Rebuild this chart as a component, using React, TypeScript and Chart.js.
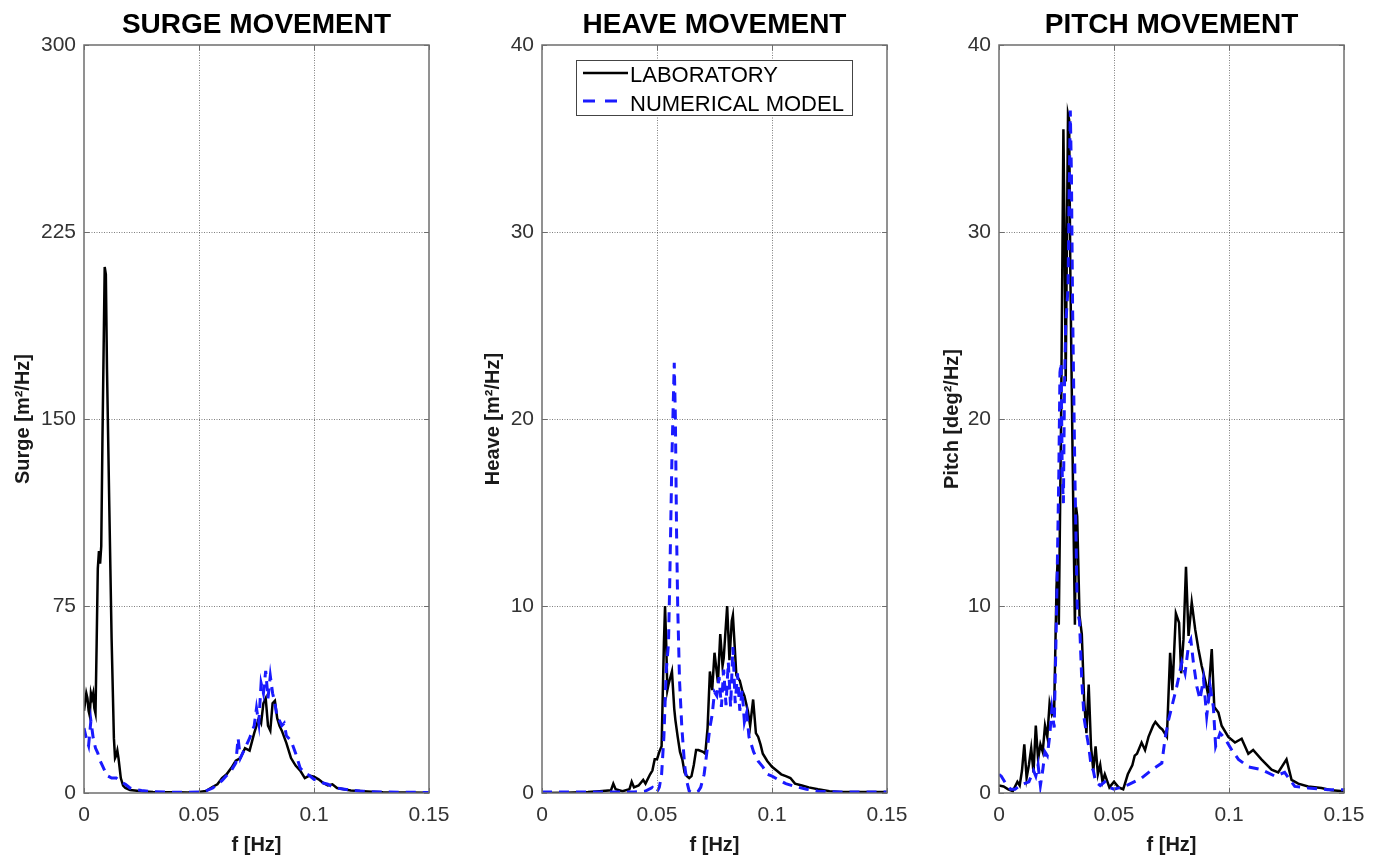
import React, { useEffect, useRef } from 'react';
import { Chart, registerables } from 'chart.js';

Chart.register(...registerables);

const FONT = '"Liberation Sans", Arial, Helvetica, sans-serif';

// ---- axis ticks / labels ----
const xTicks = [0, 0.05, 0.1, 0.15];
const surgeTicks = [0, 75, 150, 225, 300];
const motionTicks = [0, 10, 20, 30, 40];
const panelTitles = ['SURGE MOVEMENT', 'HEAVE MOVEMENT', 'PITCH MOVEMENT'];
const yTitles = ['Surge [m²/Hz]', 'Heave [m²/Hz]', 'Pitch [deg²/Hz]'];
const xTitle = 'f [Hz]';
const seriesNames = ['LABORATORY', 'NUMERICAL MODEL'];

// ---- SURGE ----
const surgeLabF = [0, 0.001, 0.0015, 0.002, 0.0025, 0.003, 0.0035, 0.004, 0.0045, 0.005, 0.0055, 0.006, 0.0065, 0.007, 0.0075, 0.008, 0.009, 0.0095, 0.01, 0.011, 0.012, 0.013, 0.0135, 0.014, 0.0145, 0.015, 0.016, 0.017, 0.018, 0.02, 0.025, 0.03, 0.035, 0.04, 0.045, 0.05, 0.053, 0.056, 0.058, 0.06, 0.062, 0.064, 0.066, 0.068, 0.07, 0.072, 0.074, 0.076, 0.077, 0.078, 0.079, 0.08, 0.081, 0.082, 0.083, 0.084, 0.085, 0.086, 0.088, 0.09, 0.092, 0.094, 0.096, 0.098, 0.1, 0.102, 0.104, 0.106, 0.108, 0.11, 0.113, 0.116, 0.12, 0.125, 0.13, 0.14, 0.15];
const surgeLab = [33, 40, 38, 33, 31, 40, 38, 40, 34, 32, 60, 90, 97, 92, 99, 140, 211, 208, 170, 115, 62, 22, 14, 15, 17, 14, 6, 3, 2, 1.2, 0.7, 0.4, 0.3, 0.3, 0.2, 0.4, 0.8, 2.5, 3.5, 6, 7.5, 10, 13, 14, 18, 17, 24, 30, 28, 36, 38, 27, 25, 36, 37, 30, 27, 25, 20, 14, 11, 9, 6, 7, 6.5, 5.5, 4, 3, 3.5, 2, 1.5, 1, 0.8, 0.5, 0.3, 0.2, 0.1];
const surgeNumF = [0, 0.001, 0.002, 0.003, 0.004, 0.005, 0.006, 0.007, 0.008, 0.009, 0.01, 0.012, 0.014, 0.016, 0.018, 0.02, 0.022, 0.025, 0.03, 0.035, 0.04, 0.045, 0.05, 0.053, 0.056, 0.058, 0.06, 0.062, 0.064, 0.066, 0.067, 0.068, 0.07, 0.072, 0.074, 0.075, 0.076, 0.077, 0.078, 0.079, 0.08, 0.081, 0.082, 0.083, 0.084, 0.085, 0.086, 0.087, 0.088, 0.09, 0.092, 0.094, 0.096, 0.098, 0.1, 0.102, 0.104, 0.106, 0.108, 0.11, 0.115, 0.12, 0.125, 0.13, 0.14, 0.15];
const surgeNum = [26, 22, 19, 29, 22, 18, 16, 13, 11, 9, 7, 6, 6, 4.5, 3.5, 2, 1.5, 1, 0.5, 0.4, 0.3, 0.3, 0.4, 0.8, 2, 3.5, 5, 7, 9, 12, 22, 14, 18, 22, 27, 34, 28, 44, 40, 49, 38, 47, 40, 36, 30, 29, 27, 28, 23, 21, 16, 10, 8, 7, 5.5, 5, 4, 3.5, 2.5, 2, 1.3, 0.8, 0.5, 0.4, 0.3, 0.2];

// ---- HEAVE ----
const heaveLabF = [0, 0.01, 0.02, 0.025, 0.03, 0.031, 0.032, 0.035, 0.038, 0.039, 0.04, 0.042, 0.044, 0.045, 0.047, 0.048, 0.049, 0.05, 0.051, 0.052, 0.053, 0.0535, 0.054, 0.0545, 0.055, 0.0565, 0.0575, 0.058, 0.059, 0.06, 0.061, 0.062, 0.063, 0.064, 0.065, 0.066, 0.067, 0.068, 0.07, 0.071, 0.072, 0.073, 0.074, 0.075, 0.0765, 0.0775, 0.0785, 0.079, 0.0805, 0.0815, 0.0825, 0.083, 0.0845, 0.086, 0.087, 0.088, 0.0895, 0.0905, 0.0918, 0.093, 0.094, 0.095, 0.096, 0.098, 0.1, 0.102, 0.104, 0.106, 0.108, 0.11, 0.113, 0.116, 0.12, 0.125, 0.13, 0.14, 0.15];
const heaveLab = [0, 0.02, 0.05, 0.1, 0.15, 0.5, 0.2, 0.1, 0.2, 0.6, 0.3, 0.4, 0.7, 0.5, 1, 1.2, 1.8, 1.8, 2.2, 2.5, 8, 10, 8, 5.5, 5.8, 6.5, 4.5, 3.9, 3, 2.2, 1.8, 1.1, 0.9, 0.8, 0.9, 1.5, 2.3, 2.3, 2.2, 2.1, 3.5, 6.5, 5.5, 7.5, 5.9, 8.5, 6.8, 7.2, 10, 7.1, 9.2, 9.5, 6.3, 6, 5.5, 5.2, 4.4, 3.6, 5, 3.2, 3, 2.6, 2.1, 1.7, 1.4, 1.2, 1, 0.9, 0.8, 0.5, 0.4, 0.3, 0.2, 0.1, 0.06, 0.05, 0.05];
const heaveNumF = [0, 0.01, 0.02, 0.03, 0.04, 0.045, 0.048, 0.049, 0.05, 0.051, 0.052, 0.053, 0.054, 0.055, 0.0555, 0.0565, 0.0575, 0.058, 0.0585, 0.059, 0.0598, 0.0608, 0.062, 0.063, 0.064, 0.066, 0.068, 0.069, 0.0705, 0.0715, 0.073, 0.074, 0.075, 0.076, 0.077, 0.078, 0.079, 0.08, 0.081, 0.082, 0.083, 0.084, 0.085, 0.086, 0.087, 0.088, 0.089, 0.09, 0.091, 0.092, 0.094, 0.096, 0.098, 0.1, 0.103, 0.106, 0.11, 0.115, 0.12, 0.13, 0.15];
const heaveNum = [0.05, 0.05, 0.05, 0.05, 0.05, 0.1, 0.3, 0.1, 0.05, 0.3, 1, 3, 6.5, 8, 11, 18, 23, 20, 14, 10, 6, 3.5, 1.5, 0.6, 0.1, 0, 0.1, 0.3, 1, 2, 3.5, 4.2, 5.4, 5.2, 6.2, 4.6, 6.6, 4.7, 7, 4.6, 7.8, 4.8, 6.4, 4.4, 5.5, 3.8, 4.3, 3, 2.6, 2.2, 1.7, 1.4, 1, 0.9, 0.7, 0.5, 0.35, 0.2, 0.1, 0.05, 0.05];

// ---- PITCH ----
const pitchLabF = [0, 0.002, 0.004, 0.006, 0.008, 0.009, 0.01, 0.011, 0.012, 0.013, 0.014, 0.015, 0.016, 0.017, 0.018, 0.019, 0.02, 0.021, 0.022, 0.023, 0.024, 0.025, 0.0255, 0.026, 0.027, 0.028, 0.0285, 0.029, 0.03, 0.0305, 0.031, 0.032, 0.033, 0.0335, 0.034, 0.035, 0.036, 0.037, 0.038, 0.039, 0.04, 0.041, 0.042, 0.043, 0.044, 0.045, 0.046, 0.048, 0.05, 0.052, 0.054, 0.056, 0.058, 0.059, 0.06, 0.062, 0.0635, 0.065, 0.067, 0.068, 0.07, 0.071, 0.073, 0.0744, 0.0754, 0.0769, 0.0783, 0.0792, 0.0802, 0.0813, 0.0824, 0.0838, 0.0853, 0.0867, 0.0881, 0.0899, 0.091, 0.0925, 0.0936, 0.0954, 0.0968, 0.0997, 0.1026, 0.1055, 0.1084, 0.1105, 0.1141, 0.1185, 0.1214, 0.125, 0.1272, 0.1301, 0.1344, 0.1402, 0.1445, 0.15];
const pitchLab = [0.4, 0.35, 0.2, 0.1, 0.6, 0.4, 1.2, 2.6, 0.8, 1.5, 2.4, 1.1, 3.6, 1.8, 2.6, 2.2, 3.6, 3, 4.8, 4.2, 4.5, 11, 12.5, 9, 20, 35.5, 30, 22, 36.3, 36, 28, 18, 9, 15.3, 14.8, 9.5, 8.5, 5, 3.2, 5.8, 2.5, 1.2, 2.5, 1, 1.5, 0.6, 1, 0.3, 0.6, 0.3, 0.2, 1, 1.5, 2, 2.1, 2.7, 2.3, 3, 3.6, 3.8, 3.5, 3.4, 3, 7.5, 5.5, 9.6, 9.1, 6.4, 8.2, 12.1, 8.4, 10.2, 8.75, 7.7, 6.8, 5.9, 5.2, 7.7, 4.6, 4.3, 3.6, 3, 2.7, 2.9, 2.1, 2.3, 1.8, 1.25, 1.1, 1.8, 0.7, 0.5, 0.35, 0.27, 0.15, 0.1];
const pitchNumF = [0, 0.001, 0.003, 0.005, 0.007, 0.009, 0.011, 0.013, 0.015, 0.016, 0.017, 0.018, 0.019, 0.02, 0.021, 0.022, 0.023, 0.024, 0.025, 0.026, 0.0265, 0.027, 0.0275, 0.028, 0.0285, 0.029, 0.03, 0.0305, 0.031, 0.0315, 0.032, 0.033, 0.034, 0.0345, 0.035, 0.036, 0.037, 0.038, 0.039, 0.04, 0.041, 0.042, 0.044, 0.046, 0.048, 0.05, 0.053, 0.0563, 0.062, 0.0665, 0.0708, 0.0722, 0.0737, 0.0751, 0.0773, 0.0795, 0.0809, 0.0824, 0.0834, 0.0845, 0.086, 0.0874, 0.0889, 0.0903, 0.0918, 0.0932, 0.0942, 0.0961, 0.0983, 0.1012, 0.1041, 0.1084, 0.1141, 0.12, 0.1242, 0.1286, 0.1344, 0.143, 0.15];
const pitchNum = [1, 0.9, 0.5, 0.2, 0.2, 0.4, 0.5, 0.6, 1.2, 0.9, 1.5, 0.4, 1.2, 2.2, 2, 3, 4.5, 3.5, 9.5, 17, 22.5, 23, 17, 15.5, 22, 25, 27, 32, 36.5, 33, 26, 17, 10, 9.5, 9.2, 6, 4, 3.2, 2.5, 1.5, 1.2, 0.6, 0.4, 0.6, 0.3, 0.2, 0.3, 0.45, 0.8, 1.25, 1.6, 2.9, 3.9, 4.6, 5.7, 7, 6.4, 7.9, 8.2, 7, 5.7, 5, 6.1, 4.1, 5.7, 4.6, 2.5, 3.2, 2.9, 2.3, 1.8, 1.4, 1.25, 0.9, 1.1, 0.35, 0.27, 0.18, 0.18];

const LAB_COLOR = '#000000';
const NUM_COLOR = '#1a1aff';

const pts = (f: number[], v: number[]) => f.map((x, i) => ({ x, y: v[i] }));

const framePlugin = {
  id: 'frame',
  beforeDatasetsDraw(chart: any) {
    const { ctx, chartArea: ca, scales } = chart;
    ctx.save();
    ctx.strokeStyle = 'rgba(0,0,0,0.5)';
    ctx.lineWidth = 1;
    ctx.setLineDash([1, 1.5]);
    scales.x.ticks.forEach((t: any) => {
      const px = Math.round(scales.x.getPixelForValue(t.value)) + 0.5;
      if (px <= ca.left + 1 || px >= ca.right - 1) return;
      ctx.beginPath(); ctx.moveTo(px, ca.top); ctx.lineTo(px, ca.bottom); ctx.stroke();
    });
    scales.y.ticks.forEach((t: any) => {
      const py = Math.round(scales.y.getPixelForValue(t.value)) + 0.5;
      if (py <= ca.top + 1 || py >= ca.bottom - 1) return;
      ctx.beginPath(); ctx.moveTo(ca.left, py); ctx.lineTo(ca.right, py); ctx.stroke();
    });
    ctx.restore();
  },
  afterDatasetsDraw(chart: any) {
    const { ctx, chartArea: ca, scales } = chart;
    ctx.save();
    ctx.setLineDash([]);
    ctx.strokeStyle = '#6e6e6e';
    ctx.lineWidth = 1.5;
    ctx.strokeRect(ca.left, ca.top, ca.right - ca.left, ca.bottom - ca.top);
    ctx.lineWidth = 1;
    const tl = 5;
    scales.x.ticks.forEach((t: any) => {
      const px = Math.round(scales.x.getPixelForValue(t.value)) + 0.5;
      ctx.beginPath();
      ctx.moveTo(px, ca.bottom); ctx.lineTo(px, ca.bottom - tl);
      ctx.moveTo(px, ca.top); ctx.lineTo(px, ca.top + tl);
      ctx.stroke();
    });
    scales.y.ticks.forEach((t: any) => {
      const py = Math.round(scales.y.getPixelForValue(t.value)) + 0.5;
      ctx.beginPath();
      ctx.moveTo(ca.left, py); ctx.lineTo(ca.left + tl, py);
      ctx.moveTo(ca.right, py); ctx.lineTo(ca.right - tl, py);
      ctx.stroke();
    });
    ctx.restore();
  },
  afterDraw(chart: any, _args: any, opts: any) {
    const { ctx, chartArea: ca } = chart;
    ctx.save();
    ctx.fillStyle = '#000';
    ctx.font = `bold 28px ${FONT}`;
    ctx.textAlign = 'center';
    ctx.textBaseline = 'alphabetic';
    ctx.fillText(opts.title, (ca.left + ca.right) / 2, 33);
    if (opts.legend) {
      const ds = chart.data.datasets;
      const lx = ca.left + 34;
      const ty = 60;
      const w = 276;
      const h = 55;
      ctx.fillStyle = '#fff';
      ctx.fillRect(lx, ty, w, h);
      ctx.strokeStyle = '#444';
      ctx.lineWidth = 1;
      ctx.strokeRect(lx + 0.5, ty + 0.5, w, h);
      const rows = [73, 101];
      const bases = [82, 111];
      ds.forEach((d: any, i: number) => {
        ctx.beginPath();
        ctx.strokeStyle = d.borderColor;
        ctx.lineWidth = i === 0 ? 2.5 : 3;
        ctx.setLineDash(i === 0 ? [] : [12, 10]);
        ctx.moveTo(lx + 7, rows[i]);
        ctx.lineTo(lx + (i === 0 ? 52 : 45), rows[i]);
        ctx.stroke();
        ctx.setLineDash([]);
        ctx.fillStyle = '#000';
        ctx.font = `22px ${FONT}`;
        ctx.textAlign = 'left';
        ctx.fillText(d.label, lx + 54, bases[i]);
      });
    }
    ctx.restore();
  },
};

type PanelProps = {
  idx: number;
  plotLeft: number;
  axisW: number;
  labF: number[];
  lab: number[];
  numF: number[];
  num: number[];
  yTicks: number[];
  legend?: boolean;
};

const PLOT_W = 345;
const RIGHT_PAD = 34;
const H = 860;

function Panel({ idx, plotLeft, axisW, labF, lab, numF, num, yTicks, legend }: PanelProps) {
  const ref = useRef<HTMLCanvasElement>(null);
  const width = axisW + PLOT_W + RIGHT_PAD;
  useEffect(() => {
    if (!ref.current) return;
    const chart = new Chart(ref.current, {
      type: 'line',
      data: {
        datasets: [
          { label: seriesNames[0], data: pts(labF, lab), borderColor: LAB_COLOR, borderWidth: 2.5, pointRadius: 0, tension: 0, fill: false, order: 1 } as any,
          { label: seriesNames[1], data: pts(numF, num), borderColor: NUM_COLOR, borderWidth: 3, borderDash: [10, 7], pointRadius: 0, tension: 0, fill: false, order: 0 } as any,
        ],
      },
      options: {
        responsive: false,
        animation: false,
        devicePixelRatio: 1,
        layout: { padding: { top: 45, right: RIGHT_PAD, bottom: 0, left: 0 } },
        plugins: {
          legend: { display: false },
          tooltip: { enabled: false },
          title: { display: false },
          frame: { title: panelTitles[idx], legend: !!legend },
        } as any,
        scales: {
          x: {
            type: 'linear',
            min: xTicks[0],
            max: xTicks[xTicks.length - 1],
            grid: { display: false, drawTicks: false },
            border: { display: false },
            ticks: {
              padding: 10,
              color: '#333',
              font: { family: FONT, size: 21 },
              maxRotation: 0,
              autoSkip: false,
              callback: (v: any) => String(Math.round(Number(v) * 1000) / 1000),
            },
            title: { display: true, text: xTitle, color: '#1a1a1a', font: { family: FONT, size: 20, weight: 'bold' }, padding: { top: 0, bottom: 3 } },
            afterBuildTicks: (s: any) => { s.ticks = xTicks.map((value) => ({ value })); },
            afterFit: (s: any) => { s.height = 67; },
          },
          y: {
            type: 'linear',
            min: yTicks[0],
            max: yTicks[yTicks.length - 1],
            grid: { display: false, drawTicks: false },
            border: { display: false },
            ticks: {
              padding: 8,
              color: '#333',
              font: { family: FONT, size: 21 },
              autoSkip: false,
              callback: (v: any) => String(v),
            },
            title: { display: true, text: yTitles[idx], color: '#1a1a1a', font: { family: FONT, size: 20, weight: 'bold' }, padding: { top: 0, bottom: 0 } },
            afterBuildTicks: (s: any) => { s.ticks = yTicks.map((value) => ({ value })); },
            afterFit: (s: any) => { s.width = axisW; },
          },
        } as any,
      },
      plugins: [framePlugin],
    });
    return () => chart.destroy();
  }, []);
  return (
    <canvas
      ref={ref}
      width={width}
      height={H}
      style={{ position: 'absolute', left: plotLeft - axisW, top: 0, width, height: H }}
    />
  );
}

export default function App() {
  return (
    <div style={{ position: 'fixed', left: 0, top: 0, width: 1386, height: 860, background: '#fff', overflow: 'hidden' }}>
      <Panel idx={0} plotLeft={84} axisW={73} labF={surgeLabF} lab={surgeLab} numF={surgeNumF} num={surgeNum} yTicks={surgeTicks} />
      <Panel idx={1} plotLeft={542} axisW={61} labF={heaveLabF} lab={heaveLab} numF={heaveNumF} num={heaveNum} yTicks={motionTicks} legend />
      <Panel idx={2} plotLeft={999} axisW={59} labF={pitchLabF} lab={pitchLab} numF={pitchNumF} num={pitchNum} yTicks={motionTicks} />
    </div>
  );
}
